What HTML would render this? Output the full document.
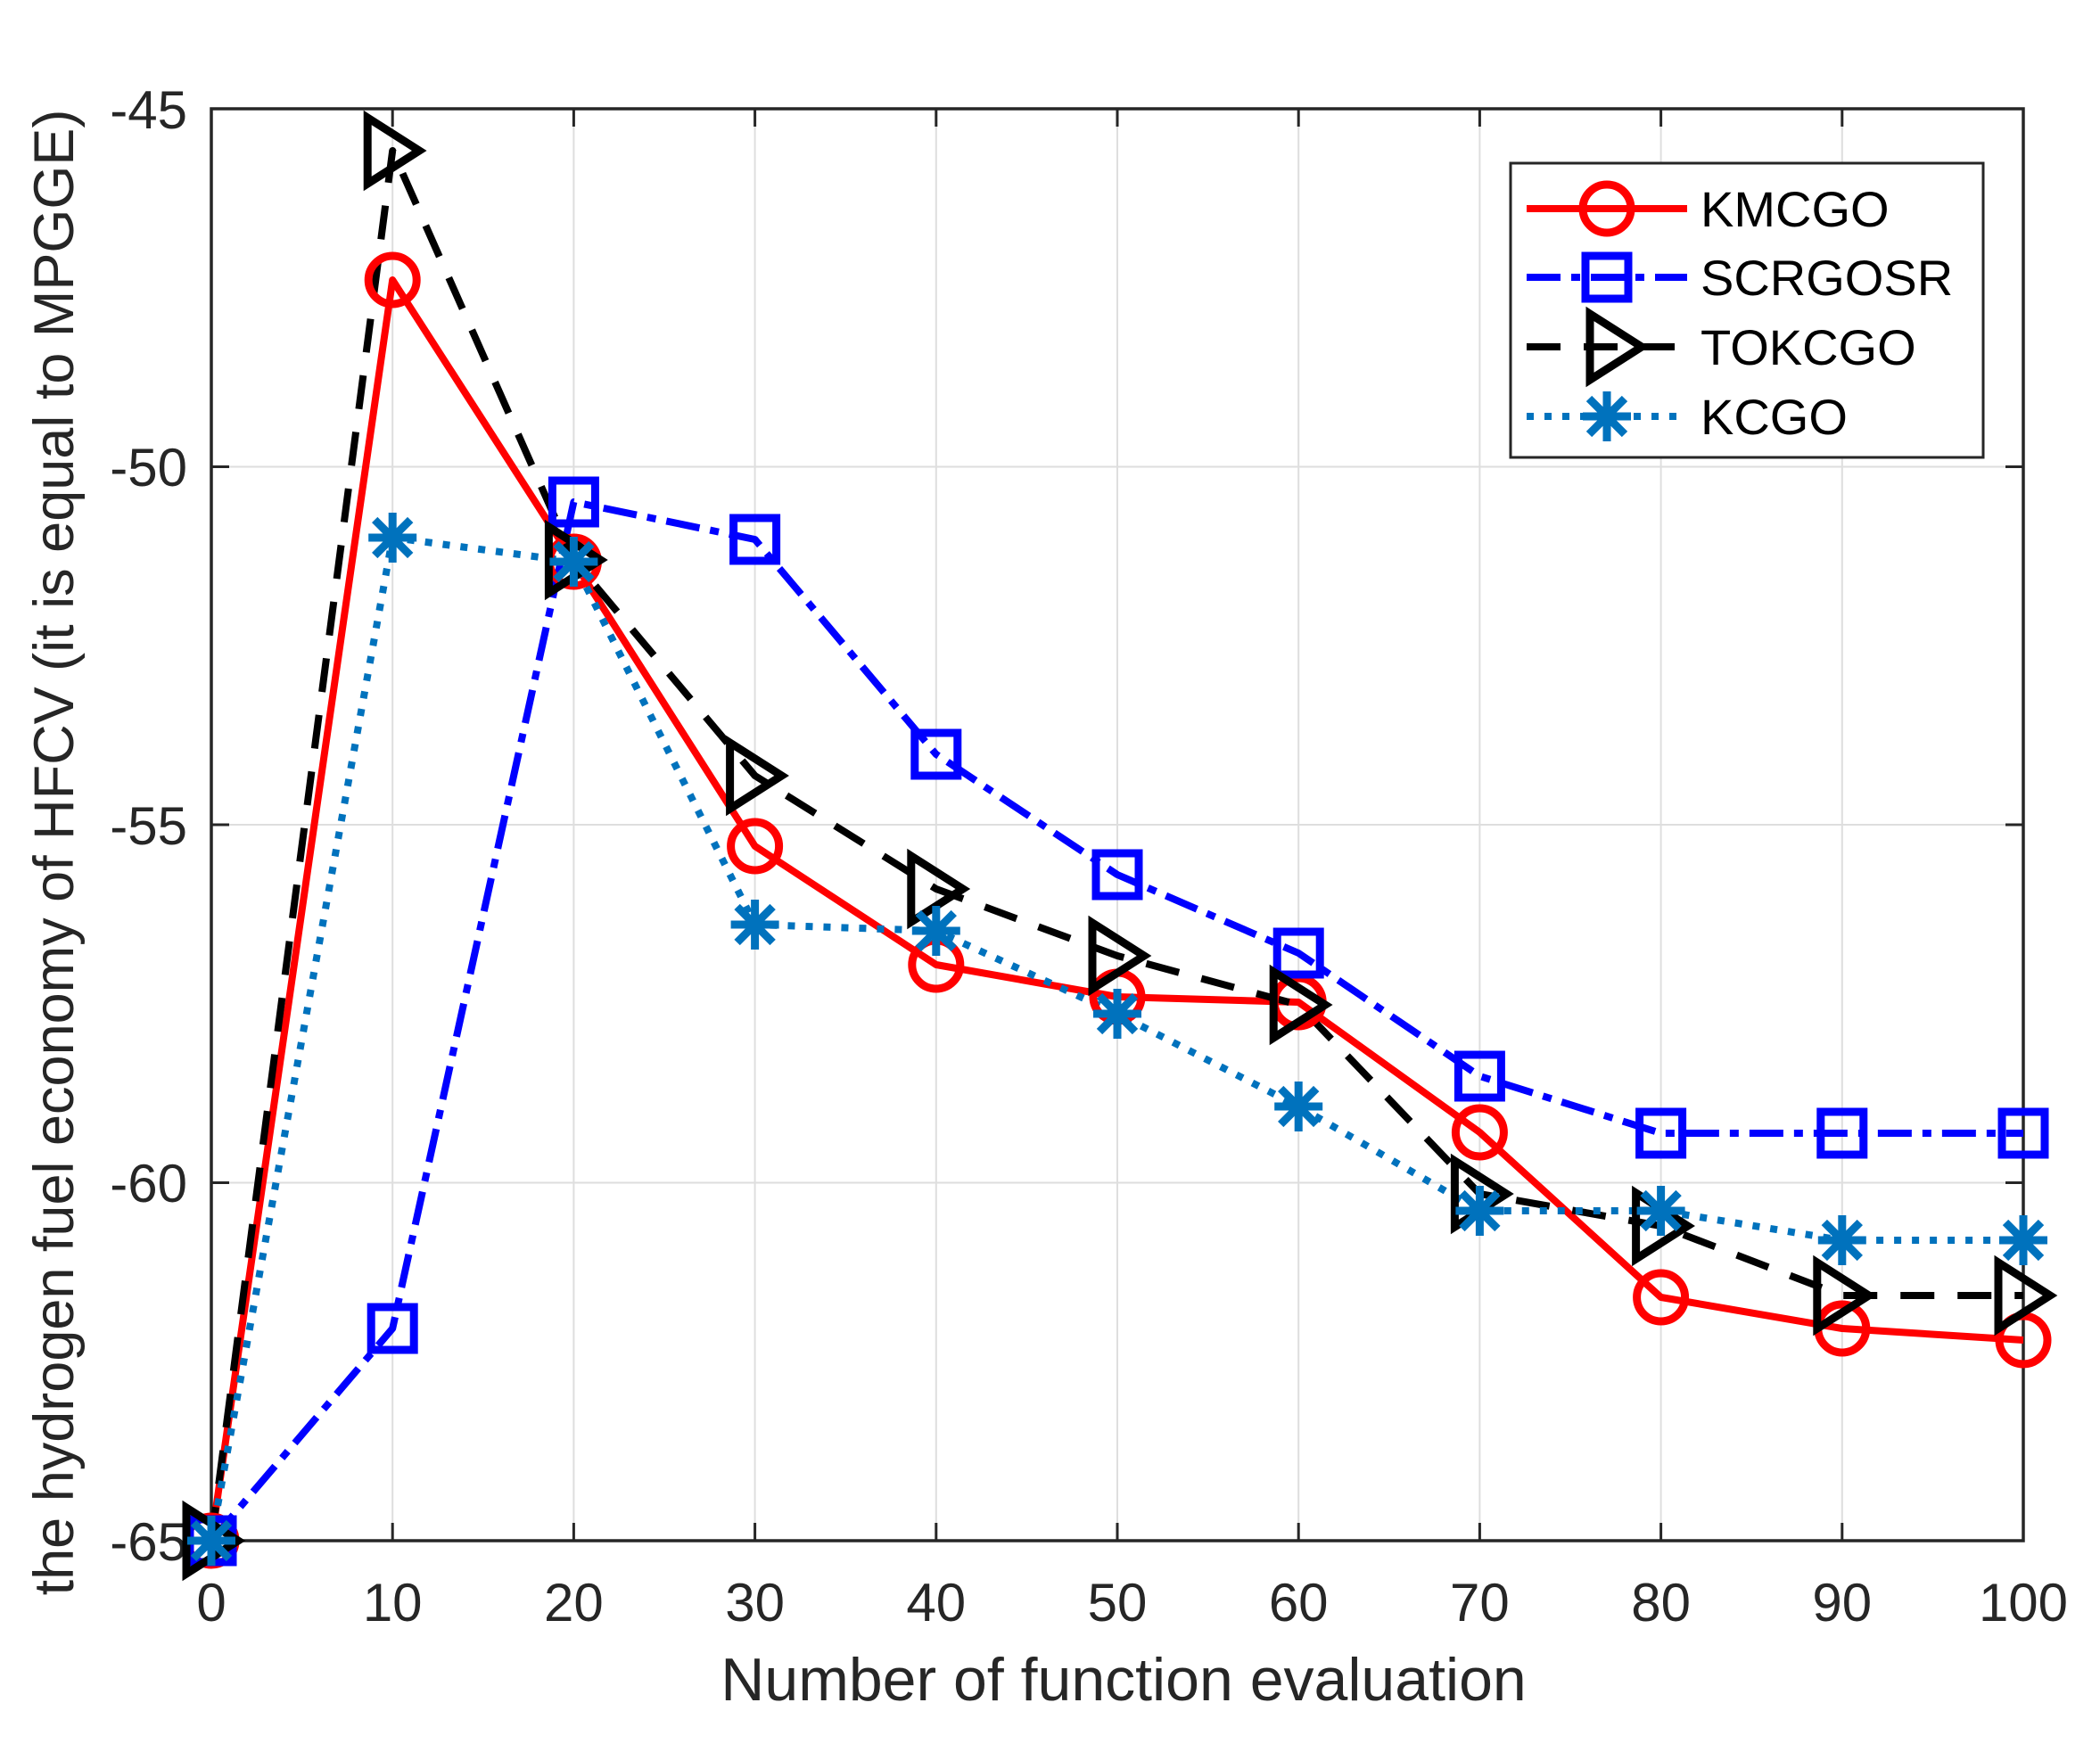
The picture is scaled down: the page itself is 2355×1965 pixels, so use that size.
<!DOCTYPE html>
<html><head><meta charset="utf-8"><style>
html,body{margin:0;padding:0;background:#fff;}
svg{display:block;}
text{font-family:"Liberation Sans",Arial,sans-serif;fill:#262626;}
</style></head><body>
<svg width="2355" height="1965" viewBox="0 0 2355 1965" xmlns="http://www.w3.org/2000/svg">
<defs>
<g id="circ"><circle r="27" fill="none" stroke="#ff0000" stroke-width="9"/></g>
<g id="sq"><rect x="-24" y="-24" width="48" height="48" fill="none" stroke="#0000ff" stroke-width="9"/></g>
<g id="tri"><polygon points="-28,-37 30,0 -28,37" fill="none" stroke="#000" stroke-width="9" stroke-linejoin="miter"/></g>
<g id="ast" stroke="#0072bd" stroke-width="9"><line x1="-27" y1="0" x2="27" y2="0"/><line x1="0" y1="-28" x2="0" y2="28"/><line x1="-20" y1="-20" x2="20" y2="20"/><line x1="-20" y1="20" x2="20" y2="-20"/></g>
</defs>
<rect width="2355" height="1965" fill="#fff"/>
<g stroke="#dedede" stroke-width="2">
<line x1="440.2" y1="122" x2="440.2" y2="1728"/><line x1="643.4" y1="122" x2="643.4" y2="1728"/><line x1="846.6" y1="122" x2="846.6" y2="1728"/><line x1="1049.8" y1="122" x2="1049.8" y2="1728"/><line x1="1253" y1="122" x2="1253" y2="1728"/><line x1="1456.2" y1="122" x2="1456.2" y2="1728"/><line x1="1659.4" y1="122" x2="1659.4" y2="1728"/><line x1="1862.6" y1="122" x2="1862.6" y2="1728"/><line x1="2065.8" y1="122" x2="2065.8" y2="1728"/>
<line x1="237" y1="523.5" x2="2269" y2="523.5"/><line x1="237" y1="925" x2="2269" y2="925"/><line x1="237" y1="1326.5" x2="2269" y2="1326.5"/>
</g>
<g stroke="#262626" stroke-width="3">
<path d="M440.2 1728v-20M643.4 1728v-20M846.6 1728v-20M1049.8 1728v-20M1253 1728v-20M1456.2 1728v-20M1659.4 1728v-20M1862.6 1728v-20M2065.8 1728v-20"/>
<path d="M440.2 122v20M643.4 122v20M846.6 122v20M1049.8 122v20M1253 122v20M1456.2 122v20M1659.4 122v20M1862.6 122v20M2065.8 122v20"/>
<path d="M237 523.5h20M237 925h20M237 1326.5h20M2269 523.5h-20M2269 925h-20M2269 1326.5h-20"/>
</g>
<rect x="237" y="122" width="2032" height="1606" fill="none" stroke="#262626" stroke-width="3.5"/>
<g font-size="60" text-anchor="middle">
<text x="237" y="1818">0</text><text x="440.2" y="1818">10</text><text x="643.4" y="1818">20</text><text x="846.6" y="1818">30</text><text x="1049.8" y="1818">40</text><text x="1253" y="1818">50</text><text x="1456.2" y="1818">60</text><text x="1659.4" y="1818">70</text><text x="1862.6" y="1818">80</text><text x="2065.8" y="1818">90</text><text x="2269" y="1818">100</text>
</g>
<g font-size="60" text-anchor="end">
<text x="210" y="144">-45</text><text x="210" y="545">-50</text><text x="210" y="947">-55</text><text x="210" y="1348">-60</text><text x="210" y="1750">-65</text>
</g>
<text x="1260" y="1907" font-size="68" text-anchor="middle">Number of function evaluation</text>
<text transform="translate(82,956) rotate(-90)" font-size="63" text-anchor="middle">the hydrogen fuel economy of HFCV (it is equal to MPGGE)</text>
<g fill="none" stroke-linejoin="round">
<polyline stroke="#ff0000" stroke-width="8" points="237,1728 440.2,314 643.4,630 846.6,949 1049.8,1082 1253,1118 1456.2,1124 1659.4,1270 1862.6,1455 2065.8,1490 2269,1503"/>
<polyline stroke="#0000ff" stroke-width="8" stroke-dasharray="38 12 10 12" points="237,1728 440.2,1490 643.4,563 846.6,605 1049.8,846 1253,981 1456.2,1069 1659.4,1207 1862.6,1271 2065.8,1271 2269,1271"/>
<polyline stroke="#000" stroke-width="8" stroke-dasharray="38 26" points="237,1728 440.2,169 643.4,628 846.6,870 1049.8,997 1253,1072 1456.2,1127 1659.4,1339 1862.6,1375 2065.8,1453 2269,1453"/>
<polyline stroke="#0072bd" stroke-width="8" stroke-dasharray="8 12" points="237,1728 440.2,603 643.4,630 846.6,1037 1049.8,1044 1253,1137 1456.2,1241 1659.4,1358 1862.6,1358 2065.8,1391 2269,1391"/>
</g>
<g>
<use href="#circ" x="237" y="1728"/><use href="#circ" x="440.2" y="314"/><use href="#circ" x="643.4" y="630"/><use href="#circ" x="846.6" y="949"/><use href="#circ" x="1049.8" y="1082"/><use href="#circ" x="1253" y="1118"/><use href="#circ" x="1456.2" y="1124"/><use href="#circ" x="1659.4" y="1270"/><use href="#circ" x="1862.6" y="1455"/><use href="#circ" x="2065.8" y="1490"/><use href="#circ" x="2269" y="1503"/>
<use href="#sq" x="237" y="1728"/><use href="#sq" x="440.2" y="1490"/><use href="#sq" x="643.4" y="563"/><use href="#sq" x="846.6" y="605"/><use href="#sq" x="1049.8" y="846"/><use href="#sq" x="1253" y="981"/><use href="#sq" x="1456.2" y="1069"/><use href="#sq" x="1659.4" y="1207"/><use href="#sq" x="1862.6" y="1271"/><use href="#sq" x="2065.8" y="1271"/><use href="#sq" x="2269" y="1271"/>
<use href="#tri" x="237" y="1728"/><use href="#tri" x="440.2" y="169"/><use href="#tri" x="643.4" y="628"/><use href="#tri" x="846.6" y="870"/><use href="#tri" x="1049.8" y="997"/><use href="#tri" x="1253" y="1072"/><use href="#tri" x="1456.2" y="1127"/><use href="#tri" x="1659.4" y="1339"/><use href="#tri" x="1862.6" y="1375"/><use href="#tri" x="2065.8" y="1453"/><use href="#tri" x="2269" y="1453"/>
<use href="#ast" x="237" y="1728"/><use href="#ast" x="440.2" y="603"/><use href="#ast" x="643.4" y="630"/><use href="#ast" x="846.6" y="1037"/><use href="#ast" x="1049.8" y="1044"/><use href="#ast" x="1253" y="1137"/><use href="#ast" x="1456.2" y="1241"/><use href="#ast" x="1659.4" y="1358"/><use href="#ast" x="1862.6" y="1358"/><use href="#ast" x="2065.8" y="1391"/><use href="#ast" x="2269" y="1391"/>
</g>
<rect x="1694" y="183" width="530" height="330" fill="#fff" stroke="#262626" stroke-width="3"/>
<g fill="none">
<line x1="1712" y1="234" x2="1892" y2="234" stroke="#ff0000" stroke-width="8"/>
<line x1="1712" y1="311" x2="1892" y2="311" stroke="#0000ff" stroke-width="8" stroke-dasharray="38 12 10 12"/>
<line x1="1712" y1="389" x2="1892" y2="389" stroke="#000" stroke-width="8" stroke-dasharray="38 26"/>
<line x1="1712" y1="467" x2="1892" y2="467" stroke="#0072bd" stroke-width="8" stroke-dasharray="8 12"/>
</g>
<use href="#circ" x="1802" y="234"/><use href="#sq" x="1802" y="311"/><use href="#tri" x="1811" y="389"/><use href="#ast" x="1802" y="467"/>
<g font-size="56">
<text x="1907" y="254" style="fill:#000">KMCGO</text><text x="1907" y="331" style="fill:#000">SCRGOSR</text><text x="1907" y="409" style="fill:#000">TOKCGO</text><text x="1907" y="487" style="fill:#000">KCGO</text>
</g>
</svg>
</body></html>
